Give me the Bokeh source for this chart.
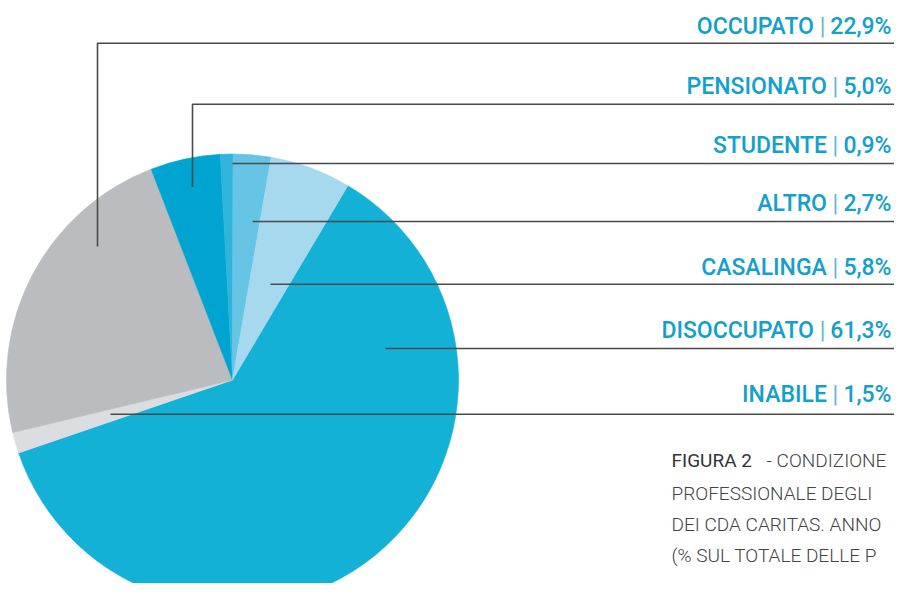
import numpy as np
from bokeh.plotting import figure
from bokeh.models import Range1d, ColumnDataSource
from bokeh.core.properties import value
from bokeh.embed import file_html
from bokeh.resources import INLINE

# ---- data (clockwise order of slices, starting at the DISOCCUPATO edge) ----
categories = ["DISOCCUPATO", "INABILE", "OCCUPATO", "PENSIONATO", "STUDENTE", "ALTRO", "CASALINGA"]
values = [61.3, 1.5, 22.9, 5.0, 0.9, 2.7, 5.8]
colors = ["#14b1d6", "#dcdde0", "#bbbcbf", "#00a4d0", "#30b4dc", "#66c4e4", "#a6d9ee"]

# order of the labels on the right, top to bottom
label_order = ["OCCUPATO", "PENSIONATO", "STUDENTE", "ALTRO", "CASALINGA", "DISOCCUPATO", "INABILE"]

caption_lines = ["PROFESSIONALE  DEGLI", "DEI CDA CARITAS. ANNO", "(% SUL TOTALE  DELLE P"]
caption_head = "FIGURA 2"
caption_tail = "- CONDIZIONE"

# ---- layout (image pixel coords, converted to data coords with pie centre at 0,0) ----
CX, CY = 232.0, 379.5
RADIUS = 226.0
START_DEG = 30.7          # clockwise-from-top angle where the first slice begins
TSHIFT = 8.0              # empirical correction of text baseline placement


def X(ix):
    return ix - CX


def Y(iy):
    return CY - iy


W, H = 894, 583
p = figure(width=W, height=H, output_backend="svg", toolbar_location=None,
           x_range=Range1d(X(0), X(W)), y_range=Range1d(Y(H), Y(0)),
           min_border=0)
p.axis.visible = False
p.grid.visible = False
p.outline_line_color = None
p.background_fill_color = "white"

# ---- pie ----
vals = np.array(values, dtype=float)
frac = vals / vals.sum()
cum = np.concatenate([[0.0], np.cumsum(frac)]) * 360.0
theta_start = START_DEG + cum[:-1]
theta_end = START_DEG + cum[1:]
start_angle = np.deg2rad(90.0 - theta_start)
end_angle = np.deg2rad(90.0 - theta_end)
src = ColumnDataSource(dict(cat=categories, start=start_angle, end=end_angle, color=colors))
p.wedge(x=0, y=0, radius=RADIUS, start_angle="start", end_angle="end", direction="clock",
        fill_color="color", line_color="color", line_width=0.6, source=src)

# ---- leader lines ----
anchors = [(97, 246), (192, 186.5), (232, 163), (252, 221), (270, 283.7), (385, 348), (110, 414)]
line_y = [42.7, 103.8, 163, 221, 283.7, 348, 413.7]
xs, ys = [], []
for (ax, ay), ly in zip(anchors, line_y):
    if abs(ay - ly) > 1:
        xs.append([X(ax), X(ax), X(W)])
        ys.append([Y(ay), Y(ly), Y(ly)])
    else:
        xs.append([X(ax), X(W)])
        ys.append([Y(ly), Y(ly)])
p.multi_line(xs=xs, ys=ys, line_color="#4a4a4a", line_width=1.6)

# ---- labels ----
FS = 23.0
RIGHT = 891.0
baselines = [33.5, 93.5, 153, 210.5, 275, 337.5, 402]
cw = {"0": .562, "1": .562, "2": .562, "3": .562, "4": .562, "5": .562, "6": .562,
      "7": .562, "8": .562, "9": .562, ",": .205, "%": .74}
SP = 0.248 * FS
PIPE = 0.243 * FS

name_x, pipe_x, pct_x, yy, names, pcts = [], [], [], [], [], []
for name, bl in zip(label_order, baselines):
    v = values[categories.index(name)]
    pct = f"{v:.1f}".replace(".", ",") + "%"
    pw = sum(cw[c] for c in pct) * FS
    px = RIGHT - pw - SP - PIPE / 2
    nx = px - PIPE / 2 - SP
    name_x.append(X(nx)); pipe_x.append(X(px)); pct_x.append(X(RIGHT)); yy.append(Y(bl - TSHIFT))
    names.append(name); pcts.append(pct)

lab_font = value("'Roboto Medium', Roboto")
p.text(x=name_x, y=yy, text=names, text_font=lab_font, text_font_size=f"{FS}px",
       text_font_style="bold", text_color="#159fcc", text_align="right", text_baseline="alphabetic")
p.text(x=pipe_x, y=yy, text=["|"] * len(names), text_font=value("Roboto"), text_font_size=f"{FS}px",
       text_color="#5ab6da", text_align="center", text_baseline="alphabetic")
p.text(x=pct_x, y=yy, text=pcts, text_font=lab_font, text_font_size=f"{FS}px",
       text_font_style="bold", text_color="#159fcc", text_align="right", text_baseline="alphabetic")

# ---- caption ----
CFS = "19px"
cap_x = 671
cap_base = [468.3, 500.7, 531.7, 563.0]
p.text(x=[X(cap_x)], y=[Y(cap_base[0] - TSHIFT)], text=[caption_head], text_font=value("Roboto"),
       text_font_size=CFS, text_color="#333333", text_baseline="alphabetic")
p.text(x=[X(766)], y=[Y(cap_base[0] - TSHIFT)], text=[caption_tail], text_font=value("'Roboto Light', Roboto"),
       text_font_size=CFS, text_color="#444444", text_baseline="alphabetic")
p.text(x=[X(cap_x)] * 3, y=[Y(b - TSHIFT) for b in cap_base[1:]], text=caption_lines,
       text_font=value("'Roboto Light', Roboto"), text_font_size=CFS, text_color="#444444",
       text_baseline="alphabetic")

open("out.html", "w").write(file_html(p, INLINE))
